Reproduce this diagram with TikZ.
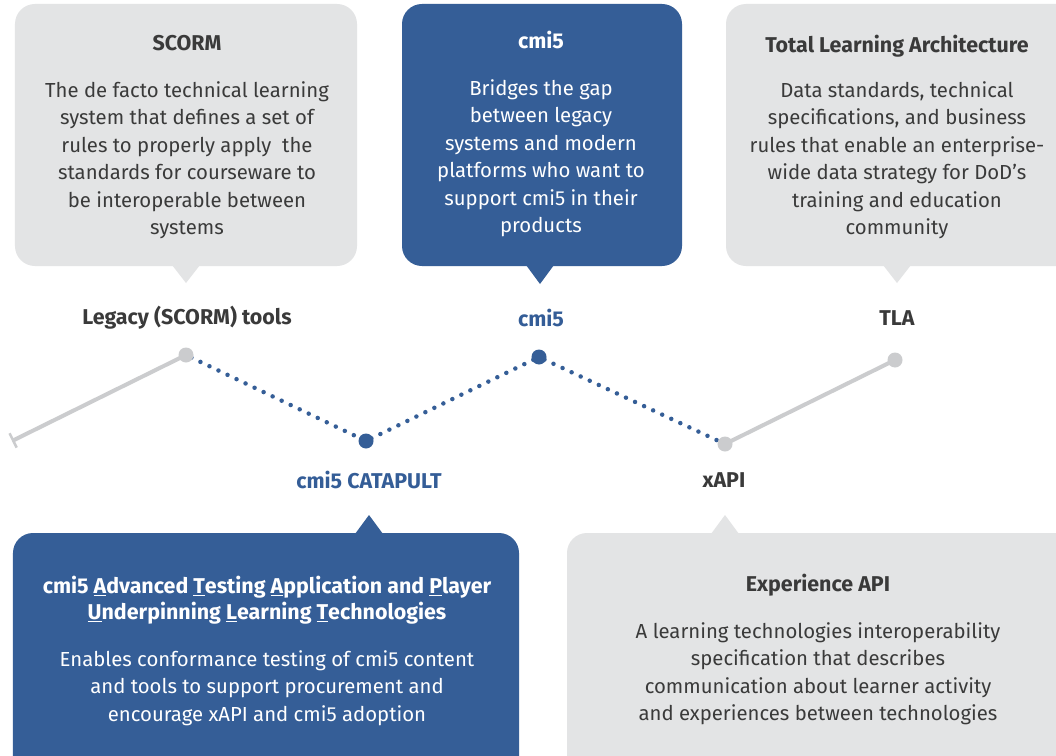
\documentclass[tikz,border=0pt]{standalone}
\usepackage{fontspec}
\setmainfont{Fira Sans}
\usetikzlibrary{arrows.meta}
\definecolor{bboxc}{HTML}{355E97}
\definecolor{gboxc}{HTML}{E3E4E5}
\definecolor{dtext}{HTML}{3A3A3A}
\definecolor{btext}{HTML}{345D97}
\definecolor{glinec}{HTML}{CBCCCE}
\pgfdeclarelayer{bg}
\pgfsetlayers{bg,main}
\tikzset{
  boxbase/.style={rectangle, rounded corners=20bp, inner sep=0pt, draw=none},
  gbox/.style={boxbase, fill=gboxc},
  bbox/.style={boxbase, fill=bboxc},
  titletext/.style={anchor=north, inner sep=0pt, align=center, font=\fontsize{21.5}{26}\selectfont\bfseries},
  bodytext/.style={anchor=north, inner sep=0pt, align=center, font=\fontsize{20.4}{27.6}\selectfont},
  lbl/.style={inner sep=0pt, font=\fontsize{21.5}{24}\selectfont\bfseries},
  gdot/.style={circle, fill=glinec, minimum size=15bp, inner sep=0pt},
  bdot/.style={circle, fill=bboxc, minimum size=15bp, inner sep=0pt},
  dotline/.style={draw=bboxc, line width=4.5bp, line cap=round, dash pattern=on 0bp off 10bp, shorten <=6bp, shorten >=6bp},
  grayline/.style={draw=glinec, line width=4bp},
}
\begin{document}
\begin{tikzpicture}[x=1bp,y=-1bp]
\useasboundingbox (0,0) rectangle (1056,756);
\clip (0,0) rectangle (1056,756);
\begin{pgfonlayer}{bg}
\fill[white] (0,0) rectangle (1056,756);
\end{pgfonlayer}

% boxes
\node[gbox, minimum width=342bp, minimum height=262bp] (scormbox) at (186,135) {};
\node[bbox, minimum width=280bp, minimum height=262bp] (cmibox) at (542,135) {};
\node[gbox, minimum width=364bp, minimum height=262bp] (tlabox) at (908,135) {};
\node[bbox, minimum width=506bp, minimum height=257bp] (catbox) at (266,661.5) {};
\node[gbox, minimum width=533bp, minimum height=257bp] (xapibox) at (833.5,661.5) {};

% pointers
\coordinate (scormtip) at (186,283);
\coordinate (cmitip) at (540,284);
\coordinate (tlatip) at (897,283);
\coordinate (cattip) at (369,515);
\coordinate (xapitip) at (725,515);
\fill[gboxc] (172,265) -- (scormtip) -- (200,265) -- cycle;
\fill[bboxc] (526,265) -- (cmitip) -- (554,265) -- cycle;
\fill[gboxc] (883,265) -- (tlatip) -- (911,265) -- cycle;
\fill[bboxc] (355,534) -- (cattip) -- (383,534) -- cycle;
\fill[gboxc] (711,534) -- (xapitip) -- (739,534) -- cycle;

% box texts
\node[titletext, text=dtext] (scormt) at (187,35) {SCORM};
\node[bodytext, text=dtext] (scormb) at (187,81) {The de facto technical learning\\system that defines a set of\\rules to properly apply\ \ the\\standards for courseware to\\be interoperable between\\systems};

\node[titletext, text=white] (cmit) at (541,31) {cmi5};
\node[bodytext, text=white] (cmib) at (541,79) {Bridges the gap\\between legacy\\systems and modern\\platforms who want to\\support cmi5 in their\\products};

\node[titletext, text=dtext] (tlat) at (897,35) {Total Learning Architecture};
\node[bodytext, text=dtext] (tlab) at (897,81) {Data standards, technical\\specifications, and business\\rules that enable an enterprise-\\wide data strategy for DoD’s\\training and education\\community};

\node[titletext, text=white] (catt) at (267,576) {cmi5 \underline{A}dvanced \underline{T}esting \underline{A}pplication and \underline{P}layer\\\underline{U}nderpinning \underline{L}earning \underline{T}echnologies};
\node[bodytext, text=white] (catb) at (267,650) {Enables conformance testing of cmi5 content\\and tools to support procurement and\\encourage xAPI and cmi5 adoption};

\node[titletext, text=dtext] (xapit) at (818,574) {Experience API};
\node[bodytext, text=dtext] (xapib) at (818,622) {A learning technologies interoperability\\specification that describes\\communication about learner activity\\and experiences between technologies};

% labels
\node[lbl, text=dtext] (legl) at (187,318) {Legacy (SCORM) tools};
\node[lbl, text=btext] (cmil) at (541,318) {cmi5};
\node[lbl, text=dtext] (tlal) at (897,318) {TLA};
\node[lbl, text=btext] (catl) at (369,480) {cmi5 CATAPULT};
\node[lbl, text=dtext] (xapil) at (724,480) {xAPI};

% timeline
\coordinate (lend) at (12,441);
\node[gdot] (legd) at (186,355) {};
\node[bdot] (catd) at (366,441) {};
\node[bdot] (cmid) at (539,357) {};
\node[gdot] (xapid) at (725,444) {};
\node[gdot] (tlad) at (895,360) {};

\begin{pgfonlayer}{bg}
\draw[grayline, -{Bar[width=16bp, line width=2.5bp]}] (legd.center) -- (lend);
\draw[grayline] (xapid.center) -- (tlad.center);
\draw[dotline] (legd.center) -- (catd.center);
\draw[dotline] (catd.center) -- (cmid.center);
\draw[dotline] (cmid.center) -- (xapid.center);
\end{pgfonlayer}
\end{tikzpicture}
\end{document}
